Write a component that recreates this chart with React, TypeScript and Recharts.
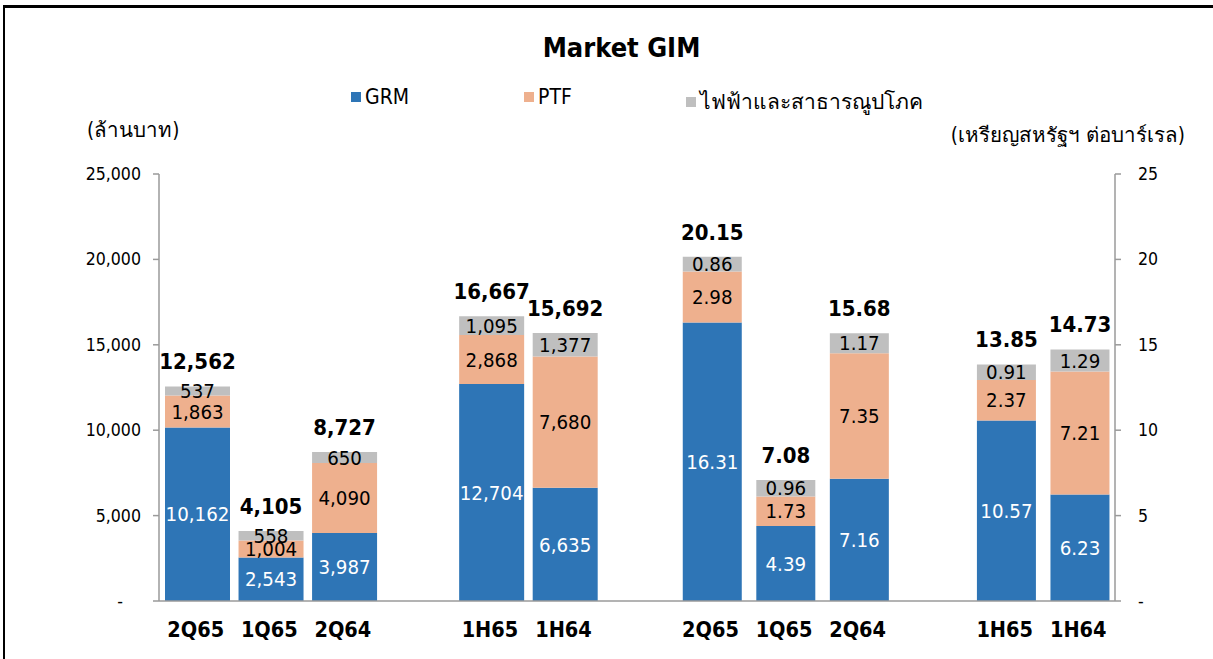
import React from 'react';
import { ComposedChart, Bar, XAxis, YAxis, LabelList } from 'recharts';

const slotCount = 13;
const leftSlots = [0, 1, 2, 4, 5];
const rightSlots = [7, 8, 9, 11, 12];

const leftCats = ['2Q65', '1Q65', '2Q64', '1H65', '1H64'];
const grmMB = [10162, 2543, 3987, 12704, 6635];
const ptfMB = [1863, 1004, 4090, 2868, 7680];
const utilMB = [537, 558, 650, 1095, 1377];
const totalMB = [12562, 4105, 8727, 16667, 15692];

const rightCats = ['2Q65', '1Q65', '2Q64', '1H65', '1H64'];
const grmUSD = [16.31, 4.39, 7.16, 10.57, 6.23];
const ptfUSD = [2.98, 1.73, 7.35, 2.37, 7.21];
const utilUSD = [0.86, 0.96, 1.17, 0.91, 1.29];
const totalUSD = [20.15, 7.08, 15.68, 13.85, 14.73];

const leftTicks = [0, 5000, 10000, 15000, 20000, 25000];
const rightTicks = [0, 5, 10, 15, 20, 25];

const seriesNames = ['GRM', 'PTF', 'ไฟฟ้าและสาธารณูปโภค'];
const colors = ['#2E75B6', '#EEB08E', '#BFBFBF'];

type Row = { [k: string]: string | number | null };
const data: Row[] = Array.from({ length: slotCount }, (_, i) => ({ cat: '', i }));
leftSlots.forEach((s, k) => {
  data[s] = { cat: leftCats[k], i: s, grmMB: grmMB[k], ptfMB: ptfMB[k], utilMB: utilMB[k], totalMB: totalMB[k] };
});
rightSlots.forEach((s, k) => {
  data[s] = { cat: rightCats[k], i: s, grmUSD: grmUSD[k], ptfUSD: ptfUSD[k], utilUSD: utilUSD[k], totalUSD: totalUSD[k] };
});

const FONT = '"DejaVu Sans Condensed", "DejaVu Sans", "Noto Sans", sans-serif';

const fmtInt = (v: any) => (v === null || v === undefined || v === '' ? '' : Number(v).toLocaleString('en-US'));
const fmtDec = (v: any) => (v === null || v === undefined || v === '' ? '' : Number(v).toFixed(2));

const LeftTick = (props: any) => {
  const { x, y, payload } = props;
  const v = payload.value;
  return (
    <text x={v === 0 ? x - 18 : x} y={y} dy={6} textAnchor="end" fontSize={17.6} fill="#000" fontFamily={FONT}>
      {v === 0 ? '-' : Number(v).toLocaleString('en-US')}
    </text>
  );
};

const RightTick = (props: any) => {
  const { x, y, payload } = props;
  const v = payload.value;
  return (
    <text x={x} y={y} dy={6} textAnchor="start" fontSize={17.6} fill="#000" fontFamily={FONT}>
      {v === 0 ? '-' : String(v)}
    </text>
  );
};

const legendPos = [351, 524, 686];

export default function App() {
  return (
    <div style={{ position: 'absolute', left: 0, top: 0, width: 1213, height: 659, overflow: 'hidden', background: '#fff', fontFamily: FONT }}>
      <div style={{ position: 'absolute', left: 3, top: 5, width: 1400, height: 800, borderLeft: '2px solid #000', borderTop: '3px solid #000' }} />
      <div style={{ position: 'absolute', left: 0, width: 1243, top: 32, textAlign: 'center', fontSize: 27, fontWeight: 'bold', color: '#000' }}>
        Market GIM
      </div>
      {seriesNames.map((n, k) => (
        <div key={n} style={{ position: 'absolute', left: legendPos[k], top: 85, display: 'flex', alignItems: 'center', fontSize: 21, color: '#000', whiteSpace: 'nowrap' }}>
          <span style={{ display: 'inline-block', width: 10, height: 10, background: colors[k], marginRight: 4 }} />
          <span>{n}</span>
        </div>
      ))}
      <div style={{ position: 'absolute', left: 87, top: 113, fontSize: 20.5, color: '#000', whiteSpace: 'nowrap' }}>(ล้านบาท)</div>
      <div style={{ position: 'absolute', right: 28, top: 118, fontSize: 20.5, color: '#000', whiteSpace: 'nowrap' }}>(เหรียญสหรัฐฯ ต่อบาร์เรล)</div>
      <div style={{ position: 'absolute', left: 0, top: 0 }}>
        <ComposedChart
          width={1213}
          height={659}
          data={data}
          margin={{ top: 174, right: 38, bottom: 18, left: 20 }}
          barGap={-62}
          barCategoryGap={0}
        >
          <XAxis
            dataKey="cat"
            xAxisId={0}
            tickLine={false}
            tickSize={0}
            tickMargin={21}
            axisLine={{ stroke: '#9A9A9A', strokeWidth: 1.5 }}
            height={40}
            interval={0}
            tick={{ fontSize: 21.5, fontWeight: 'bold', fill: '#000', fontFamily: FONT }}
          />
          <YAxis
            yAxisId="left"
            orientation="left"
            width={139}
            domain={[0, 25000]}
            ticks={leftTicks}
            tickSize={6}
            tickMargin={12}
            axisLine={{ stroke: '#9A9A9A', strokeWidth: 1.5 }}
            tickLine={{ stroke: '#9A9A9A', strokeWidth: 1.5 }}
            tick={<LeftTick />}
            interval={0}
          />
          <YAxis
            yAxisId="right"
            orientation="right"
            width={60}
            domain={[0, 25]}
            ticks={rightTicks}
            tickSize={6}
            tickMargin={17}
            axisLine={{ stroke: '#9A9A9A', strokeWidth: 1.5 }}
            tickLine={{ stroke: '#9A9A9A', strokeWidth: 1.5 }}
            tick={<RightTick />}
            interval={0}
          />
          <Bar dataKey="grmMB" yAxisId="left" stackId="mb" fill={colors[0]} barSize={65} isAnimationActive={false}>
            <LabelList dataKey="grmMB" position="center" formatter={fmtInt} fill="#fff" fontSize={20.3} fontFamily={FONT} />
          </Bar>
          <Bar dataKey="ptfMB" yAxisId="left" stackId="mb" fill={colors[1]} barSize={65} isAnimationActive={false}>
            <LabelList dataKey="ptfMB" position="center" formatter={fmtInt} fill="#000" fontSize={20.3} fontFamily={FONT} />
          </Bar>
          <Bar dataKey="utilMB" yAxisId="left" stackId="mb" fill={colors[2]} barSize={65} isAnimationActive={false}>
            <LabelList dataKey="utilMB" position="center" formatter={fmtInt} fill="#000" fontSize={20.3} fontFamily={FONT} />
            <LabelList dataKey="totalMB" position="top" offset={17} formatter={fmtInt} fill="#000" fontSize={22} fontWeight="bold" fontFamily={FONT} />
          </Bar>
          <Bar dataKey="grmUSD" yAxisId="right" stackId="usd" fill={colors[0]} barSize={59} isAnimationActive={false}>
            <LabelList dataKey="grmUSD" position="center" formatter={fmtDec} fill="#fff" fontSize={20.3} fontFamily={FONT} />
          </Bar>
          <Bar dataKey="ptfUSD" yAxisId="right" stackId="usd" fill={colors[1]} barSize={59} isAnimationActive={false}>
            <LabelList dataKey="ptfUSD" position="center" formatter={fmtDec} fill="#000" fontSize={20.3} fontFamily={FONT} />
          </Bar>
          <Bar dataKey="utilUSD" yAxisId="right" stackId="usd" fill={colors[2]} barSize={59} isAnimationActive={false}>
            <LabelList dataKey="utilUSD" position="center" formatter={fmtDec} fill="#000" fontSize={20.3} fontFamily={FONT} />
            <LabelList dataKey="totalUSD" position="top" offset={17} formatter={fmtDec} fill="#000" fontSize={22} fontWeight="bold" fontFamily={FONT} />
          </Bar>
        </ComposedChart>
      </div>
    </div>
  );
}
